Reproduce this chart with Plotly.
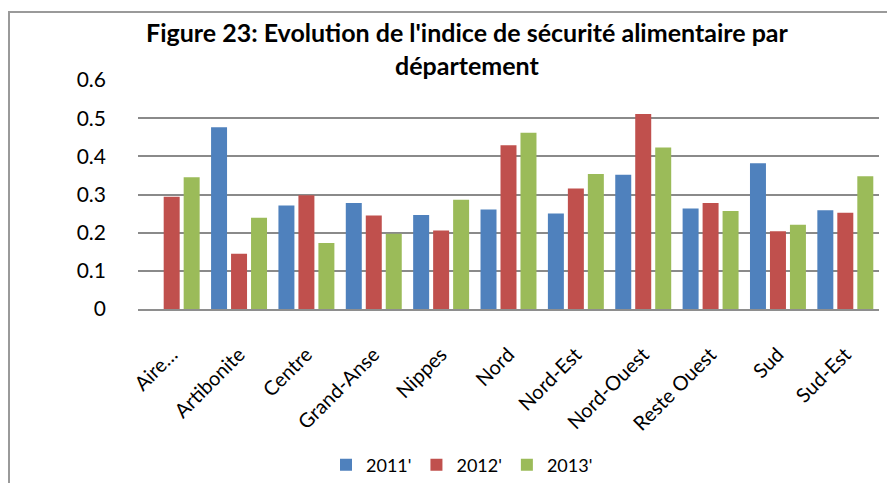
import plotly.graph_objects as go

categories = ["Aire…", "Artibonite", "Centre", "Grand-Anse", "Nippes", "Nord",
              "Nord-Est", "Nord-Ouest", "Reste Ouest", "Sud", "Sud-Est"]
v2011 = [None, 0.476, 0.271, 0.278, 0.246, 0.261, 0.250, 0.352, 0.263, 0.382, 0.259]
v2012 = [0.294, 0.145, 0.298, 0.245, 0.206, 0.429, 0.316, 0.511, 0.278, 0.204, 0.252]
v2013 = [0.345, 0.239, 0.173, 0.197, 0.286, 0.462, 0.354, 0.423, 0.257, 0.221, 0.348]
series_names = ["2011'", "2012'", "2013'"]
colors = ["#4F81BD", "#C0504D", "#9BBB59"]
y_ticks = [0, 0.1, 0.2, 0.3, 0.4, 0.5, 0.6]
title_text = "<b>Figure 23: Evolution de l'indice de sécurité alimentaire par<br>département</b>"

# page body has an 8px margin; work in reference-pixel coordinates and offset
OFF = 8
W, H = 895 - OFF, 483 - OFF
L = 138 - OFF
T = 80 - OFF
R = W - (879 - OFF)
B = H - (309 - OFF)
pw, ph = W - L - R, H - T - B

def px_x(rx):
    return (rx - OFF - L) / pw

def px_y(ry):
    return (H - B - (ry - OFF)) / ph

fig = go.Figure()
for name, vals, col in zip(series_names, [v2011, v2012, v2013], colors):
    fig.add_trace(go.Bar(x=categories, y=vals, name=name,
                         marker=dict(color=col, line=dict(width=0))))

font_family = "Lato, Carlito, Calibri, sans-serif"

fig.add_annotation(
    text=title_text, xref="paper", yref="paper",
    x=px_x(467), xanchor="center", y=px_y(15), yanchor="top",
    showarrow=False, align="center",
    font=dict(family=font_family, size=25, color="black"),
)

fig.update_layout(
    width=W, height=H,
    margin=dict(l=L, r=R, t=T, b=B, autoexpand=False),
    paper_bgcolor="white", plot_bgcolor="white",
    barmode="group", bargap=0.11, bargroupgap=0.2,
    font=dict(family=font_family, color="black"),
    xaxis=dict(
        tickangle=-45, tickfont=dict(size=20, color="black"),
        showline=True, linecolor="#8e8e8e", linewidth=2,
        showgrid=False, ticks="", ticklabelstandoff=24,
    ),
    yaxis=dict(
        range=[0, 0.6], tickvals=y_ticks, ticktext=[f"{t:g}" for t in y_ticks],
        tickfont=dict(size=21, color="black"),
        showgrid=True, gridcolor="#8a8a8a", gridwidth=1.8,
        zeroline=False, showline=False, ticks="",
        ticklabelstandoff=31,
    ),
    legend=dict(
        orientation="h", x=px_x(462), xanchor="center",
        y=px_y(465), yanchor="middle",
        font=dict(size=18, color="black"), itemwidth=30,
        traceorder="normal",
    ),
    shapes=[
        dict(type="rect", xref="paper", yref="paper",
             x0=px_x(9), x1=px_x(W + 60), y0=px_y(H + 60), y1=px_y(12),
             line=dict(color="#9a9a9a", width=2), fillcolor="rgba(0,0,0,0)",
             layer="below"),
    ],
)

fig.write_html("out.html")
